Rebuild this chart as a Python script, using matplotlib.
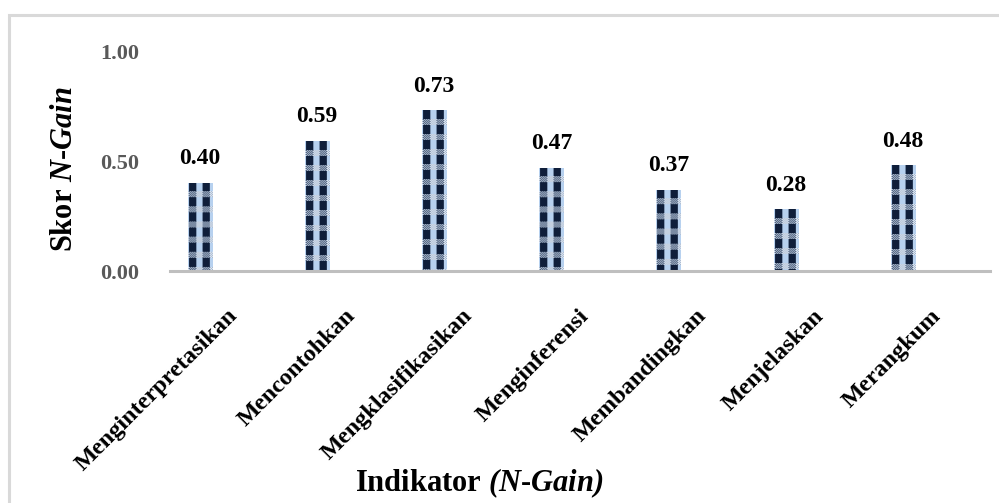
import numpy as np
import matplotlib
matplotlib.use('Agg')
import matplotlib.pyplot as plt
from matplotlib.patches import Rectangle
from matplotlib.transforms import ScaledTranslation

plt.rcParams['font.family'] = ['Liberation Serif', 'DejaVu Serif']
plt.rcParams['font.weight'] = 'bold'
plt.rcParams['mathtext.fontset'] = 'custom'
plt.rcParams['mathtext.it'] = 'Liberation Serif:italic:bold'
plt.rcParams['mathtext.rm'] = 'Liberation Serif:italic:bold'

indikator = ['Menginterpretasikan', 'Mencontohkan', 'Mengklasifikasikan',
             'Menginferensi', 'Membandingkan', 'Menjelaskan', 'Merangkum']
n_gain = [0.40, 0.59, 0.73, 0.47, 0.37, 0.28, 0.48]
y_ticks = [0.00, 0.50, 1.00]


def plaid(rows, cols):
    # navy/light-blue checked texture for the bars
    dark = np.array([0.06, 0.12, 0.23])
    light = np.array([0.72, 0.82, 0.94])
    band_a = np.array([0.30, 0.37, 0.48])
    band_b = np.array([0.66, 0.72, 0.80])
    band_c = np.array([0.88, 0.92, 0.97])
    img = np.zeros((rows, cols, 3))
    for r in range(rows):
        for c in range(cols):
            col_light = ((c + 5) % 13) < 6
            if (r % 15) >= 9:
                on = (r + c) % 2 == 0
                if col_light:
                    img[r, c] = band_c if on else band_b
                else:
                    img[r, c] = band_a if on else band_b
            else:
                img[r, c] = light if col_light else dark
    return img


fig = plt.figure(figsize=(9.99, 5.03), dpi=100)
ax = fig.add_axes([0.1702, 0.4612, 0.8208, 0.4374])

x = np.arange(len(indikator))
bars = ax.bar(x - 0.245, n_gain, width=0.205, color='none', edgecolor='none', zorder=2)
ax.set_xlim(-0.5, len(indikator) - 0.5)
ax.set_ylim(0, 1.0)

for rect, v in zip(bars, n_gain):
    x0, y0 = rect.get_x(), rect.get_y()
    w, h = rect.get_width(), rect.get_height()
    p0 = ax.transData.transform((x0, y0))
    p1 = ax.transData.transform((x0 + w, y0 + h))
    npx = max(int(round(p1[0] - p0[0])), 1)
    npy = max(int(round(p1[1] - p0[1])), 1)
    im = ax.imshow(plaid(npy, npx)[::-1], extent=(x0, x0 + w, y0, y0 + h),
                   aspect='auto', origin='lower', interpolation='bilinear', zorder=2)
    im.set_clip_path(rect)
    ax.annotate(f'{v:.2f}', (x0 + w / 2, v), xytext=(0, 10), textcoords='offset points',
                ha='center', va='bottom', fontsize=17, fontweight='bold', color='black')

ax.set_xlim(-0.5, len(indikator) - 0.5)
ax.set_ylim(0, 1.0)

for s in ['top', 'right', 'left']:
    ax.spines[s].set_visible(False)
ax.spines['bottom'].set_color('#bfbfbf')
ax.spines['bottom'].set_linewidth(2.2)
ax.spines['bottom'].set_zorder(3)

ax.set_yticks(y_ticks)
ax.set_yticklabels([f'{t:.2f}' for t in y_ticks])
ax.tick_params(axis='y', length=0, pad=22, labelsize=16, labelcolor='#595959')

ax.set_xticks(x)
ax.set_xticklabels(indikator, rotation=45, ha='right', va='center',
                   rotation_mode='anchor', fontsize=17.5, fontweight='bold')
ax.tick_params(axis='x', length=0, pad=30)
for lbl in ax.get_xticklabels():
    lbl.set_transform(lbl.get_transform() + ScaledTranslation(0.06, 0, fig.dpi_scale_trans))

fig.text(0.065, 1 - 169 / 503, r'Skor $N$-$Gain$', rotation=90, ha='center', va='center',
         fontsize=22, fontweight='bold')
fig.text(0.48, 1 - 483 / 503, r'Indikator $(N$-$Gain)$', ha='center', va='center',
         fontsize=22, fontweight='bold')

# light grey chart frame
fig.patches.append(Rectangle((9 / 999, -0.1), 1.2, 1.1 - 14.5 / 503, transform=fig.transFigure,
                             fill=False, edgecolor='#d9d9d9', linewidth=2.2))

fig.savefig('out.png', dpi=100, facecolor='white')
